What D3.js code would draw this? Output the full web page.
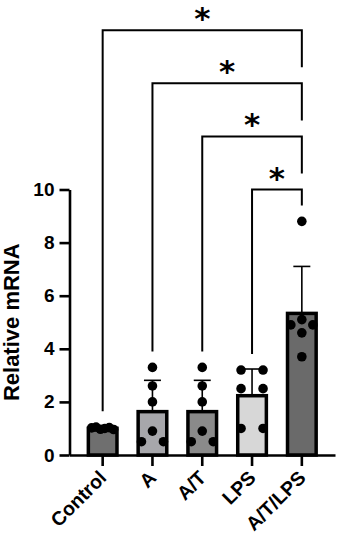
<!DOCTYPE html>
<html lang="en">
<head>
<meta charset="utf-8">
<title>Relative mRNA</title>
<script src="https://cdn.jsdelivr.net/npm/d3@7"></script>
<style>
  body { margin: 0; background: #fff; }
  text { font-family: "Liberation Sans", Arial, sans-serif; font-weight: bold; }
  text.star { font-family: "DejaVu Sans", sans-serif; }
</style>
</head>
<body>
<script>
// groups on the x axis
var categories = ["Control", "A", "A/T", "LPS", "A/T/LPS"];
var barColors = ["#6f6f6f", "#a7a7ab", "#8a8a8a", "#d7d7d7", "#6a6a6a"];

// individual replicates per group
var controlValues = [1.02, 1.05, 0.97, 1.0, 1.03, 0.96];
var aValues       = [3.3, 2.6, 2.0, 0.5, 0.9, 0.5];
var atValues      = [3.3, 2.6, 2.0, 0.5, 0.9, 0.5];
var lpsValues     = [3.2, 3.2, 2.5, 2.5, 1.0, 1.0];
var atlpsValues   = [8.8, 4.9, 5.1, 4.9, 4.6, 3.7];

var yTicks = [0, 2, 4, 6, 8, 10];

// significance brackets: each group vs A/T/LPS, bracket height in y units
var compareFrom  = ["Control", "A", "A/T", "LPS"];
var compareTo    = "A/T/LPS";
var compareLevel = [16, 14, 12, 10];
var compareLabel = ["*", "*", "*", "*"];

var w = 339, h = 541;
var allValues = [controlValues, aValues, atValues, lpsValues, atlpsValues];

var groups = categories.map(function(c, i) {
  var v = allValues[i];
  return { name: c, values: v, mean: d3.mean(v), sd: d3.deviation(v), color: barColors[i] };
});

var svg = d3.select("body").append("svg")
  .attr("width", w)
  .attr("height", h);

var x = d3.scaleBand()
  .domain(categories)
  .range([69.5, 335])
  .paddingInner(0)
  .paddingOuter(0.166);

var y = d3.scaleLinear()
  .domain([0, 10])
  .range([455, 189.5]);

var barW = x.bandwidth() * 0.575;
var cx = function(name) { return x(name) + x.bandwidth() / 2; };

// bars
svg.append("g").selectAll("rect")
  .data(groups)
  .enter().append("rect")
  .attr("x", function(d) { return cx(d.name) - barW / 2; })
  .attr("y", function(d) { return y(d.mean); })
  .attr("width", barW)
  .attr("height", function(d) { return y(0) - y(d.mean); })
  .attr("fill", function(d) { return d.color; })
  .attr("stroke", "#000")
  .attr("stroke-width", 3.5);

// error bars (mean + SD)
var err = svg.append("g").attr("stroke", "#000").attr("stroke-width", 1.6);
err.selectAll("line.v")
  .data(groups)
  .enter().append("line")
  .attr("class", "v")
  .attr("x1", function(d) { return cx(d.name); })
  .attr("x2", function(d) { return cx(d.name); })
  .attr("y1", function(d) { return y(d.mean); })
  .attr("y2", function(d) { return y(d.mean + d.sd); });
err.selectAll("line.c")
  .data(groups)
  .enter().append("line")
  .attr("class", "c")
  .attr("x1", function(d) { return cx(d.name) - 8.5; })
  .attr("x2", function(d) { return cx(d.name) + 8.5; })
  .attr("y1", function(d) { return y(d.mean + d.sd); })
  .attr("y2", function(d) { return y(d.mean + d.sd); });

// dots: values that sit close together share a row and are spread sideways
function spread(values) {
  var idx = values.map(function(v, i) { return i; })
    .sort(function(a, b) { return values[a] - values[b]; });
  var rows = [], row = null;
  idx.forEach(function(i) {
    if (row && values[i] - values[row[0]] <= 0.25) row.push(i);
    else { row = [i]; rows.push(row); }
  });
  var out = [];
  rows.forEach(function(r) {
    r.sort(function(a, b) { return a - b; });
    var n = r.length, step = n > 1 ? 22 / (n - 1) : 0;
    r.forEach(function(i, k) {
      out.push({ v: values[i], dx: (k - (n - 1) / 2) * step });
    });
  });
  return out;
}

groups.forEach(function(g) {
  svg.append("g").selectAll("circle")
    .data(spread(g.values))
    .enter().append("circle")
    .attr("cx", function(d) { return cx(g.name) + d.dx; })
    .attr("cy", function(d) { return y(d.v); })
    .attr("r", 4.8)
    .attr("fill", "#000");
});

// axes
var yAxis = svg.append("g")
  .attr("transform", "translate(69.5,0)")
  .call(d3.axisLeft(y).tickValues(yTicks).tickSize(10).tickSizeOuter(0).tickPadding(5));
var xAxis = svg.append("g")
  .attr("transform", "translate(0,455)")
  .call(d3.axisBottom(x).tickSize(11).tickSizeOuter(0).tickFormat(""));

[yAxis, xAxis].forEach(function(a) {
  a.selectAll("path, line").attr("stroke", "#000").attr("stroke-width", 2.6);
});
yAxis.selectAll("text").attr("font-size", 19).attr("fill", "#000");

svg.append("g").selectAll("text")
  .data(categories)
  .enter().append("text")
  .attr("transform", function(d) { return "translate(" + (cx(d) + 5) + ",479) rotate(-45)"; })
  .attr("text-anchor", "end")
  .attr("font-size", 19.5)
  .text(function(d) { return d; });

svg.append("text")
  .attr("transform", "translate(19," + (y(5)) + ") rotate(-90)")
  .attr("text-anchor", "middle")
  .attr("font-size", 22)
  .text("Relative mRNA");

// significance brackets
var gap = 0.6;
var br = svg.append("g").attr("fill", "none").attr("stroke", "#000").attr("stroke-width", 2);
compareFrom.forEach(function(f, i) {
  var lvl = compareLevel[i];
  var fromMax = d3.max(groups[categories.indexOf(f)].values);
  var toMax = d3.max(groups[categories.indexOf(compareTo)].values);
  compareLevel.forEach(function(l) { if (l < lvl) toMax = Math.max(toMax, l); });
  var x1 = cx(f), x2 = cx(compareTo);
  br.append("path")
    .attr("d", d3.line()([[x1, y(fromMax + gap)], [x1, y(lvl)], [x2, y(lvl)], [x2, y(toMax + gap)]]));
  svg.append("text")
    .attr("class", "star")
    .attr("x", (x1 + x2) / 2)
    .attr("y", y(lvl) - 1)
    .attr("text-anchor", "middle")
    .attr("font-size", 31)
    .text(compareLabel[i]);
});
</script>
</body>
</html>
